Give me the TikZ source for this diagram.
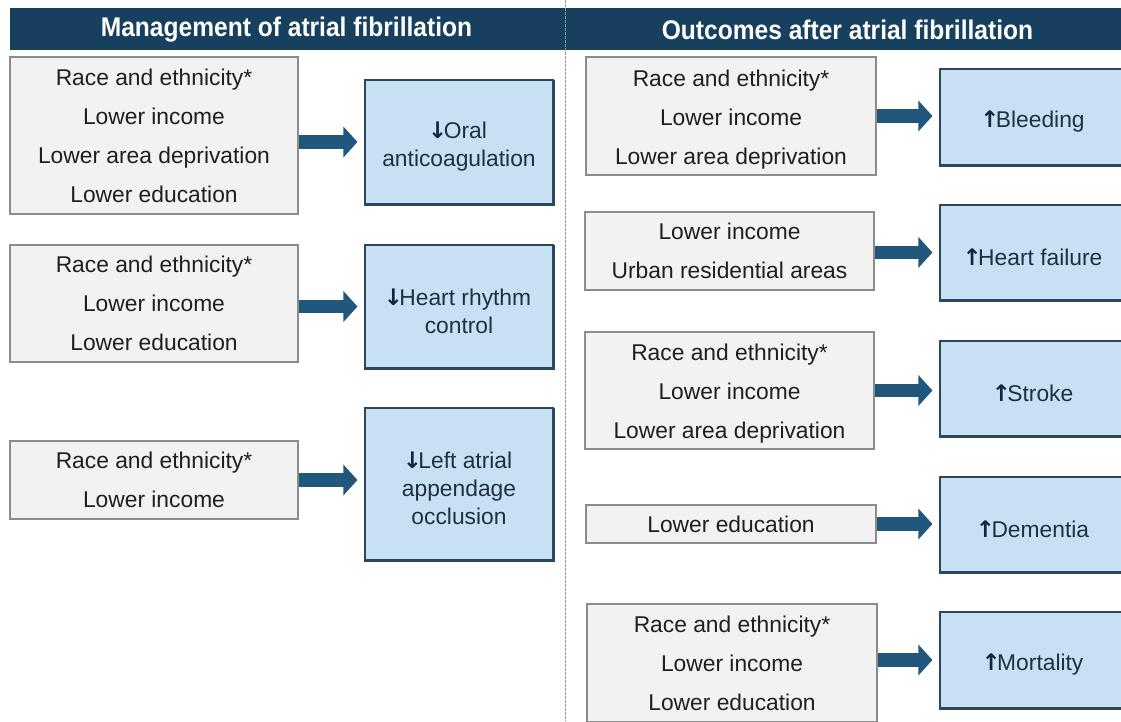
\documentclass[tikz,border=0pt]{standalone}
\usepackage{fontspec}
\setmainfont{Liberation Sans}
\newfontfamily\hdrfont[FakeStretch=0.91]{Liberation Sans}
\newfontfamily\symfont{DejaVu Sans}
\usetikzlibrary{arrows.meta}
\definecolor{hdr}{RGB}{23,64,94}
\definecolor{arrowc}{RGB}{33,86,125}
\definecolor{grayfill}{RGB}{242,242,242}
\definecolor{graydraw}{RGB}{140,140,140}
\definecolor{bluefill}{RGB}{199,225,243}
\definecolor{bluedraw}{RGB}{44,70,94}
\definecolor{bluetext}{RGB}{30,48,66}
\definecolor{symc}{RGB}{18,38,58}
\newcommand{\myStrut}[1]{\rule{0pt}{#1}}
\newcommand{\myDown}{\myStrut{26pt}{\color{symc}\symfont\bfseries\kern-3pt ↓\kern-3.5pt}}
\newcommand{\myUp}{\myStrut{26pt}{\color{symc}\symfont\bfseries\kern-3pt ↑\kern-3.5pt}}
\begin{document}
\begin{tikzpicture}[x=1pt,y=-1pt,
  gbox/.style={draw=graydraw, line width=1.3pt, fill=grayfill, align=center, inner sep=0pt,
    font=\fontsize{22.8}{39}\selectfont, text=black!88},
  bbox/.style={draw=bluedraw, line width=1.1pt, fill=bluefill, align=center, inner sep=0pt,
    font=\fontsize{22.8}{28}\selectfont, text=bluetext},
  shadeline/.style={draw=bluedraw, line width=2.6pt},
  conn/.style={draw=arrowc, line width=13.5pt, -{Triangle[length=14pt,width=30pt]}, shorten >=7pt},
  hdrtext/.style={text=white, font=\hdrfont\bfseries\fontsize{27}{30}\selectfont},
  divider/.style={draw=black!40, line width=0.7pt, dash pattern=on 2.5pt off 1.5pt}
]
\useasboundingbox (0,0) rectangle (1121,721);
\clip (0,0) rectangle (1121,721);

% header
\fill[hdr] (10,8) rectangle (1121,50);
\node[hdrtext] (h1) at (286.5,30) {Management of atrial fibrillation};
\node[hdrtext] (h2) at (847.5,30) {Outcomes after atrial fibrillation};

% divider
\draw[divider] (565,0) -- (565,721);

% left column
\node[gbox, minimum width=288pt, minimum height=157pt] (g1) at (154,135.5)
  {Race and ethnicity*\\Lower income\\Lower area deprivation\\Lower education};
\node[bbox, minimum width=188pt, minimum height=124pt] (b1) at (459,142)
  {\myDown Oral\\anticoagulation};

\node[gbox, minimum width=288pt, minimum height=117pt] (g2) at (154,303.5)
  {Race and ethnicity*\\Lower income\\Lower education};
\node[bbox, minimum width=188pt, minimum height=123pt] (b2) at (459,306.5)
  {\myDown Heart rhythm\\control};

\node[gbox, minimum width=288pt, minimum height=78pt] (g3) at (154,480)
  {Race and ethnicity*\\Lower income};
\node[bbox, minimum width=188pt, minimum height=152pt] (b3) at (459,484)
  {\myDown Left atrial\\appendage\\occlusion};

% right column
\node[gbox, minimum width=290pt, minimum height=118pt] (r1) at (731,116)
  {\myStrut{23pt}Race and ethnicity*\\Lower income\\Lower area deprivation};
\node[bbox, minimum width=188pt, minimum height=96pt] (s1) at (1034,117)
  {\myUp Bleeding};

\node[gbox, minimum width=289pt, minimum height=78pt] (r2) at (729.5,251)
  {Lower income\\Urban residential areas};
\node[bbox, minimum width=188pt, minimum height=95pt] (s2) at (1034,252.5)
  {\myUp Heart failure};

\node[gbox, minimum width=289pt, minimum height=117pt] (r3) at (729.5,390.5)
  {\myStrut{22pt}Race and ethnicity*\\Lower income\\Lower area deprivation};
\node[bbox, minimum width=188pt, minimum height=95pt] (s3) at (1034,388.5)
  {\myUp Stroke};

\node[gbox, minimum width=290pt, minimum height=38pt] (r4) at (731,524)
  {Lower education};
\node[bbox, minimum width=188pt, minimum height=95pt] (s4) at (1034,524.5)
  {\myUp Dementia};

\node[gbox, minimum width=290pt, minimum height=118pt] (r5) at (732,663)
  {Race and ethnicity*\\Lower income\\Lower education};
\node[bbox, minimum width=188pt, minimum height=96pt] (s5) at (1034,660)
  {\myUp Mortality};

% shadow edges of blue boxes
\foreach \n in {b1,b2,b3,s1,s2,s3,s4,s5}
  \draw[shadeline] ([xshift=-0.5pt]\n.south west) -- (\n.south east) -- ([yshift=-0.5pt]\n.north east);

% connectors
\draw[conn] (g1.east |- b1.west) -- (b1.west);
\draw[conn] (g2.east |- b2.west) -- (b2.west);
\draw[conn] (g3.east) -- (b3.west |- g3.east);
\draw[conn] (r1.east) -- (s1.west |- r1.east);
\draw[conn] (r2.east |- s2.west) -- (s2.west);
\draw[conn] (r3.east) -- (s3.west |- r3.east);
\draw[conn] (r4.east) -- (s4.west |- r4.east);
\draw[conn] (r5.east |- s5.west) -- (s5.west);
\end{tikzpicture}
\end{document}
